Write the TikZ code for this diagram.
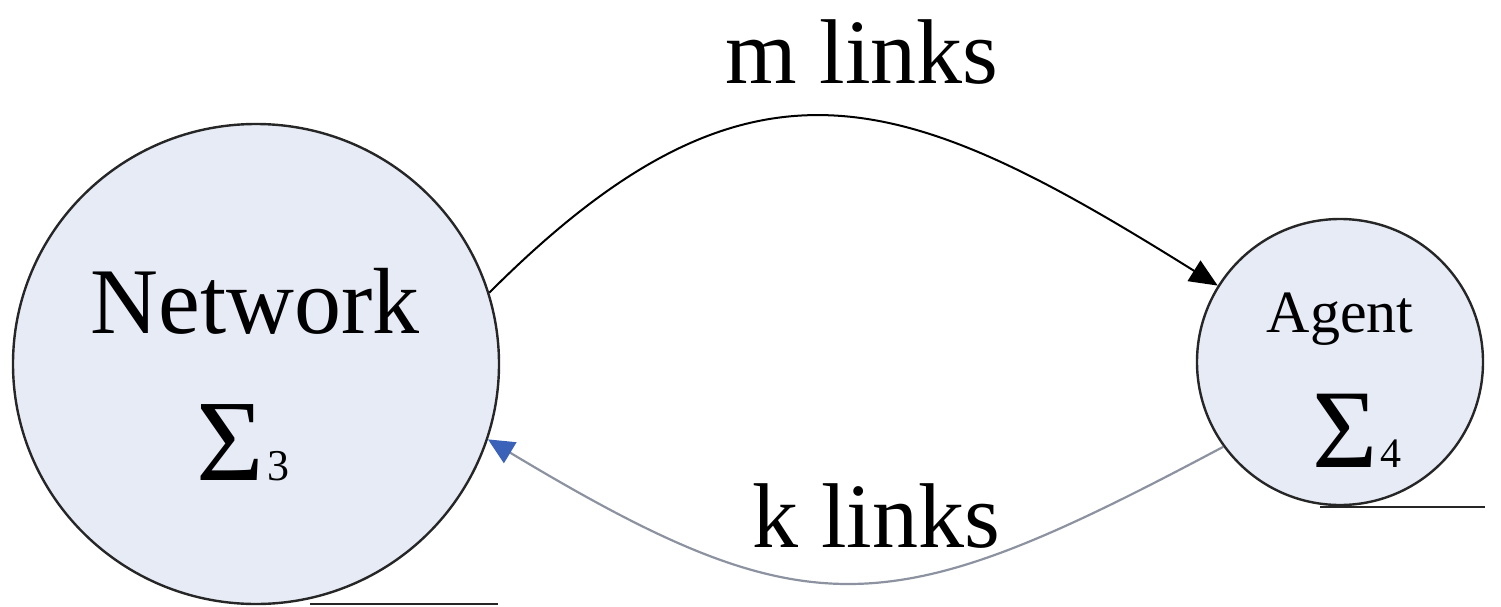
\documentclass[tikz,border=0pt]{standalone}
\usepackage{fontspec}
\setmainfont{Liberation Serif}
\usetikzlibrary{shapes.geometric,arrows.meta}
\definecolor{nodefill}{RGB}{230,235,246}
\definecolor{linkgray}{RGB}{140,146,160}
\definecolor{tipblue}{RGB}{58,98,184}
\begin{document}
\begin{tikzpicture}[x=0.5pt,y=-0.5pt,
  sysnode/.style={ellipse,draw=black!85,line width=1.2pt,fill=nodefill,inner sep=0pt},
  lbl/.style={inner sep=0pt,anchor=base},
  mlink/.style={line width=1pt,-{Triangle[length=14pt,width=12pt]}},
  klink/.style={draw=linkgray,line width=1.1pt,-{Triangle[length=13pt,width=12pt,color=tipblue]}},
  uline/.style={line width=1.2pt,draw=black!85}]
\useasboundingbox (0,0) rectangle (1501,606);
\node[sysnode,minimum width=243pt,minimum height=240pt] (net) at (256,364) {};
\node[sysnode,minimum width=143pt,minimum height=143pt] (agent) at (1340,362) {};
\node[lbl,font=\fontsize{47}{47}\selectfont] (nettxt) at (255,333) {Network};
\node[lbl] (netsig) at (243,480) {{\fontsize{58}{58}\selectfont Σ}\hspace{2pt}{\fontsize{22}{22}\selectfont 3}};
\node[lbl,font=\fontsize{30}{30}\selectfont] (agtxt) at (1340,332) {Agent};
\node[lbl] (agsig) at (1357,467) {{\fontsize{56}{56}\selectfont Σ}\hspace{1pt}{\fontsize{21}{21}\selectfont 4}};
\node[lbl,font=\fontsize{46}{46}\selectfont] (mtxt) at (862,83) {m links};
\node[lbl,font=\fontsize{46}{46}\selectfont] (ktxt) at (876,547) {k links};
\draw[mlink] (net.17) to[out=45,in=148,looseness=1.3] (agent.148);
\draw[klink] (agent.216) to[out=208,in=329,looseness=1.31] (net.-18);
\coordinate (u1a) at (310,604);
\coordinate (u1b) at (498,604);
\coordinate (u2a) at (1320,507);
\coordinate (u2b) at (1485,507);
\draw[uline] (u1a) -- (u1b);
\draw[uline] (u2a) -- (u2b);
\end{tikzpicture}
\end{document}
